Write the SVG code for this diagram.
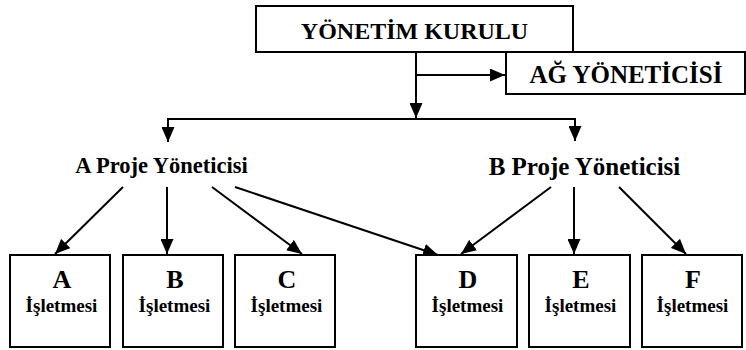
<svg xmlns="http://www.w3.org/2000/svg" width="746" height="350" viewBox="0 0 746 350">
<defs>
<marker id="ah" markerWidth="15" markerHeight="13" refX="15" refY="6.5" orient="auto" markerUnits="userSpaceOnUse">
<path d="M0,0 L15,6.5 L0,13 Z" fill="#000"/>
</marker>
<style>
.box{fill:#fff;stroke:#000;stroke-width:2}
.t{font-family:"Liberation Serif","Times New Roman",serif;font-weight:bold;fill:#000;text-anchor:middle}
.c{fill:none;stroke:#000;stroke-width:2}
.ca{fill:none;stroke:#000;stroke-width:2;marker-end:url(#ah)}
</style>
</defs>
<rect width="746" height="350" fill="#fff"/>
<g id="connectors">
<line class="ca" x1="416" y1="52" x2="416" y2="118"/>
<line class="ca" x1="416" y1="75" x2="505" y2="75"/>
<polyline class="c" points="168,141 168,119 575,119 575,141"/>
<line class="ca" x1="168" y1="119" x2="168" y2="142"/>
<line class="ca" x1="575" y1="119" x2="575" y2="141"/>
<line class="ca" x1="123" y1="187" x2="55" y2="254"/>
<line class="ca" x1="167" y1="187" x2="167" y2="254"/>
<line class="ca" x1="212" y1="187" x2="302" y2="254"/>
<line class="ca" x1="235" y1="187" x2="438" y2="255"/>
<line class="ca" x1="551" y1="187" x2="461" y2="254"/>
<line class="ca" x1="574" y1="187" x2="574" y2="254"/>
<line class="ca" x1="619" y1="187" x2="686" y2="254"/>
</g>
<g id="yonetim-kurulu">
<rect class="box" x="256" y="6" width="317" height="46"/>
<text class="t" x="414.5" y="39" font-size="24">YÖNETİM KURULU</text>
</g>
<g id="ag-yoneticisi">
<path class="c" d="M506,52 L745,52 L745,94 L506,94 Z"/>
<text class="t" x="626" y="83" font-size="25">AĞ YÖNETİCİSİ</text>
</g>
<g id="a-proje">
<text class="t" x="161.5" y="173" font-size="22.5">A Proje Yöneticisi</text>
</g>
<g id="b-proje">
<text class="t" x="584.5" y="175" font-size="25">B Proje Yöneticisi</text>
</g>
<g id="a-isletmesi">
<rect class="box" x="10" y="255" width="100" height="92"/>
<text class="t" x="62" y="288" font-size="26">A</text>
<text class="t" x="61.5" y="312" font-size="19">İşletmesi</text>
</g>
<g id="b-isletmesi">
<rect class="box" x="123" y="255" width="100" height="92"/>
<text class="t" x="175" y="288" font-size="26">B</text>
<text class="t" x="174.5" y="312" font-size="19">İşletmesi</text>
</g>
<g id="c-isletmesi">
<rect class="box" x="235" y="255" width="100" height="92"/>
<text class="t" x="287" y="288" font-size="26">C</text>
<text class="t" x="286.5" y="312" font-size="19">İşletmesi</text>
</g>
<g id="d-isletmesi">
<rect class="box" x="416" y="255" width="101" height="92"/>
<text class="t" x="468" y="288" font-size="26">D</text>
<text class="t" x="467.5" y="312" font-size="19">İşletmesi</text>
</g>
<g id="e-isletmesi">
<rect class="box" x="529" y="255" width="101" height="92"/>
<text class="t" x="581" y="288" font-size="26">E</text>
<text class="t" x="580.5" y="312" font-size="19">İşletmesi</text>
</g>
<g id="f-isletmesi">
<rect class="box" x="642" y="255" width="100" height="92"/>
<text class="t" x="693" y="288" font-size="26">F</text>
<text class="t" x="692.5" y="312" font-size="19">İşletmesi</text>
</g>
</svg>
